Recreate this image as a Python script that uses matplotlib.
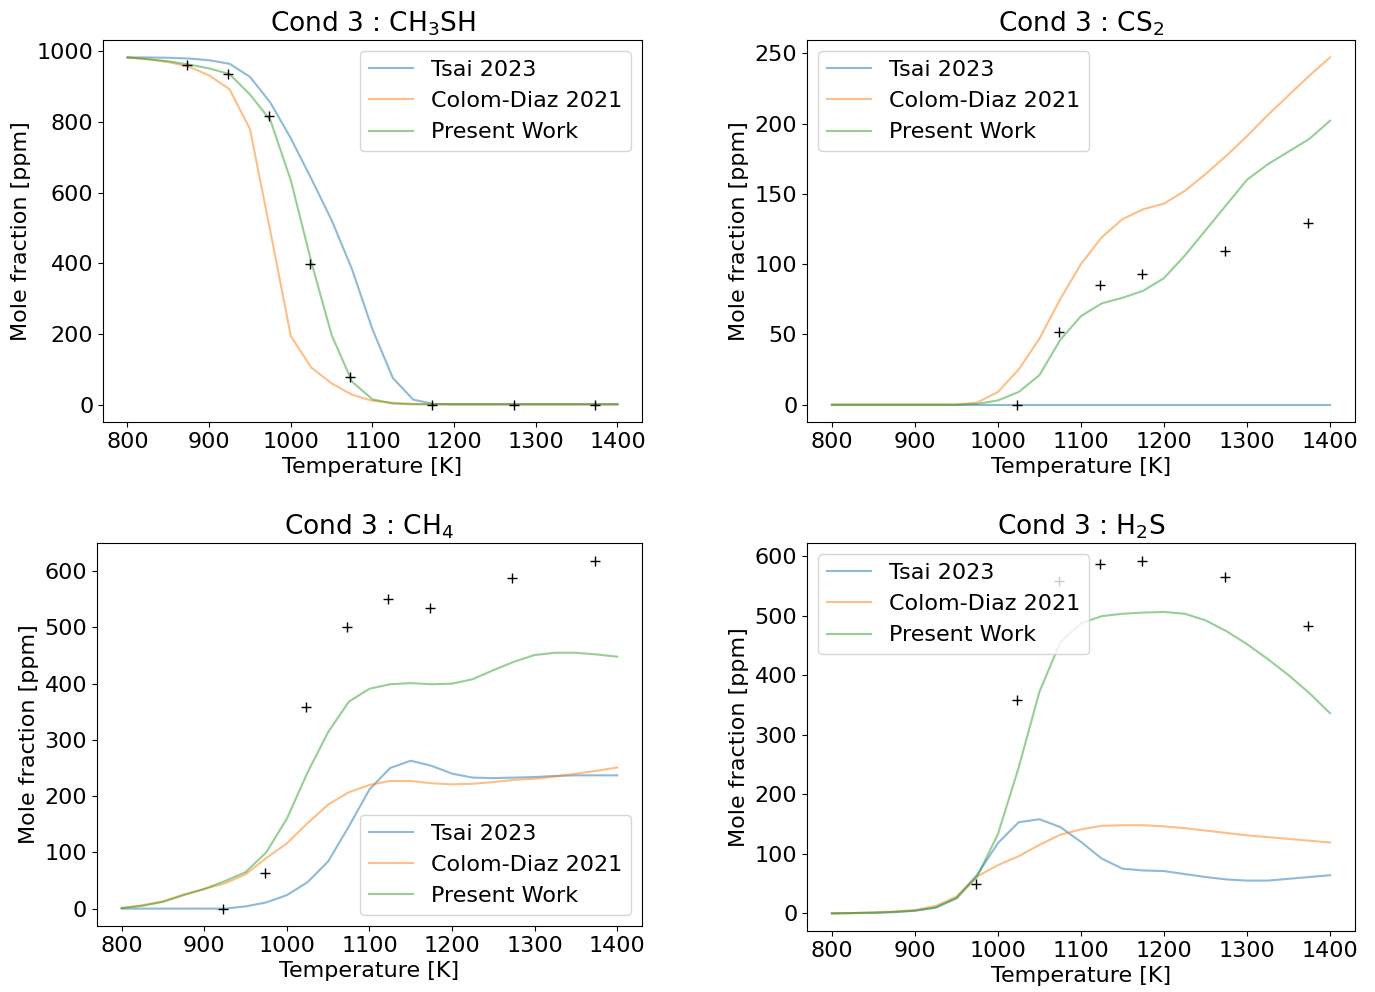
import numpy as np
import matplotlib
matplotlib.use("Agg")
from matplotlib import pyplot as plt

plt.rcParams['font.size'] = 16

# model temperature grid [K]
T = [800, 825, 850, 875, 900, 925, 950, 975, 1000, 1025, 1050, 1075, 1100,
     1125, 1150, 1175, 1200, 1225, 1250, 1275, 1300, 1325, 1350, 1375, 1400]

# CH3SH
ch3sh_tsai = [983, 983, 982, 980, 975, 965, 928, 855, 754, 640, 522, 383, 213,
              75, 14, 2, 1, 1, 1, 1, 1, 1, 1, 1, 1]
ch3sh_colom = [983, 978, 970, 957, 932, 893, 780, 490, 194, 105, 60, 28, 11,
               5, 2, 1, 1, 1, 1, 1, 1, 1, 1, 1, 1]
ch3sh_present = [983, 978, 972, 963, 952, 936, 878, 805, 635, 405, 197, 65, 15,
                 3, 1, 1, 1, 1, 1, 1, 1, 1, 1, 1, 1]

# CS2
cs2_tsai = [0]*25
cs2_colom = [0, 0, 0, 0, 0, 0, 0, 1.5, 9, 25, 47, 75, 100, 119, 132, 139, 143,
             152, 164, 177, 191, 206, 220, 234, 247]
cs2_present = [0, 0, 0, 0, 0, 0, 0, 0.5, 3, 9, 21, 46, 63, 72, 76, 81, 90,
               106, 124, 142, 160, 171, 180, 189, 202]

# CH4
ch4_tsai = [0, 0, 0, 0, 0, 0, 4, 11, 24, 47, 84, 146, 212, 250, 263, 254, 240,
            233, 232, 233, 234, 236, 237, 237, 237]
ch4_colom = [1, 6, 13, 25, 35, 45, 61, 90, 116, 152, 185, 207, 220, 227, 227,
             223, 221, 222, 225, 229, 231, 235, 240, 245, 251]
ch4_present = [1, 5, 12, 24, 35, 49, 65, 100, 160, 242, 314, 368, 391, 399, 401,
               399, 400, 408, 424, 439, 451, 455, 455, 452, 448]

# H2S
h2s_tsai = [0, 0.5, 1, 2, 4.5, 9.5, 26, 65, 118, 153, 158, 145, 120, 92, 75,
            72, 71, 66, 61, 57, 55, 55, 58, 61, 64]
h2s_colom = [0, 0.5, 1.5, 3, 5.5, 12.5, 28, 62, 81, 96, 115, 132, 141, 147, 148,
             148, 146, 143, 139, 135, 131, 128, 125, 122, 119]
h2s_present = [0, 0.5, 1, 2.5, 4.5, 10, 25, 62, 133, 245, 372, 455, 487, 499,
               503, 505, 506, 503, 492, 474, 452, 427, 400, 370, 336]

# experiments
exp_ch3sh_T = [873, 923, 973, 1023, 1073, 1173, 1273, 1373]
exp_ch3sh = [962, 937, 816, 399, 79, 0, 0, 0]
exp_cs2_T = [1023, 1073, 1123, 1173, 1273, 1373]
exp_cs2 = [0, 52, 85, 93, 109, 129]
exp_ch4_T = [923, 973, 1023, 1073, 1123, 1173, 1273, 1373]
exp_ch4 = [0, 64, 358, 500, 550, 535, 588, 619]
exp_h2s_T = [973, 1023, 1073, 1123, 1173, 1273, 1373]
exp_h2s = [49, 358, 558, 587, 592, 565, 482]

labels = ["Tsai 2023", "Colom-Diaz 2021", "Present Work"]

panels = [
    ("Cond 3 : CH$_3$SH", [ch3sh_tsai, ch3sh_colom, ch3sh_present], exp_ch3sh_T, exp_ch3sh,
     [0.0749, 0.5746, 0.392, 0.385], "upper right"),
    ("Cond 3 : CS$_2$", [cs2_tsai, cs2_colom, cs2_present], exp_cs2_T, exp_cs2,
     [0.5869, 0.5746, 0.3985, 0.385], "upper left"),
    ("Cond 3 : CH$_4$", [ch4_tsai, ch4_colom, ch4_present], exp_ch4_T, exp_ch4,
     [0.0705, 0.0665, 0.3964, 0.386], "lower right"),
    ("Cond 3 : H$_2$S", [h2s_tsai, h2s_colom, h2s_present], exp_h2s_T, exp_h2s,
     [0.5869, 0.0615, 0.3985, 0.391], "upper left"),
]

fig = plt.figure(figsize=(13.75, 9.92), dpi=100)
for title, series, xe, ye, pos, loc in panels:
    ax = fig.add_axes(pos)
    for s, lab in zip(series, labels):
        ax.plot(T, s, alpha=0.5, label=lab)
    ax.plot(xe, ye, 'k+', markersize=7)
    ax.set_title(title, fontsize=19)
    ax.set_xlabel("Temperature [K]")
    ax.set_ylabel("Mole fraction [ppm]")
    ax.set_xticks([800, 900, 1000, 1100, 1200, 1300, 1400])
    ax.legend(loc=loc)

fig.savefig("out.png", dpi=100)
